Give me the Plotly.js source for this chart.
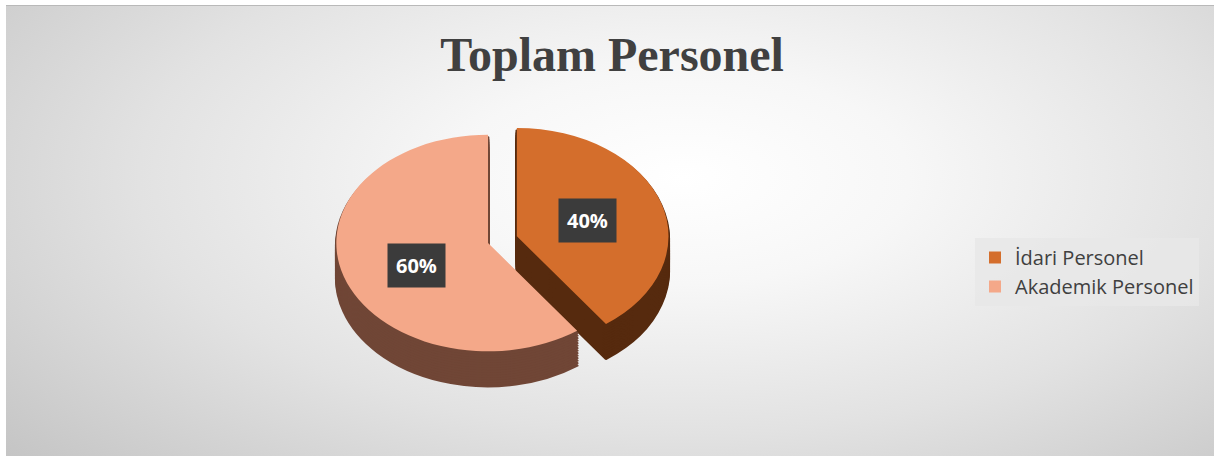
<!DOCTYPE html>
<html>
<head>
<meta charset="utf-8">
<script src="https://cdn.plot.ly/plotly-3.0.1.min.js"></script>
<style>
  html, body { margin:0; padding:0; background:#ffffff; width:1217px; height:457px; overflow:hidden; }
  #bg { position:absolute; left:6px; top:5px; width:1208px; height:450px;
        border-top:1px solid #b9b9b9;
        background: radial-gradient(ellipse 75% 95% at 56% 38%, #ffffff 0%, #f7f7f7 25%, #e2e2e2 60%, #c4c4c4 100%); }
  #chart { position:absolute; left:0; top:0; width:1217px; height:457px; }
</style>
</head>
<body>
<div id="bg"></div>
<div id="chart"></div>
<script>
const categories = ["İdari Personel", "Akademik Personel"];
const values = [40, 60];
const chartTitle = "Toplam Personel";

const topColors = ["#D46E2C", "#F4A889"];
const sideColors = ["#562A0E", "#704636"];
const total = values.reduce((a, b) => a + b, 0);
const pctLabels = values.map(v => Math.round(v / total * 100) + "%");

const W = 1217, H = 457;
const px = (x) => x / W;
const py = (y) => 1 - y / H;

// pie geometry (pixels): centre, half-size of domain, depth of the side wall
const CX = 488, CY = 243, HALF = 130, DEPTH = 35, STRETCH = 1.4, WALL_STEPS = 14;
const pulls = [0.2, 0];

function pieTrace(colors, dy, legend) {
  return {
    type: "pie",
    labels: categories,
    values: values,
    sort: false,
    direction: "clockwise",
    rotation: 0,
    pull: pulls,
    marker: { colors: colors, line: { width: legend ? 0 : 2, color: colors } },
    textinfo: "none",
    hoverinfo: legend ? "label+percent" : "skip",
    showlegend: legend,
    domain: { x: [px(CX - 190), px(CX + 190)], y: [py(CY + dy + HALF), py(CY + dy - HALF)] }
  };
}

// side wall: the same slices stacked downwards, then the top face
const traces = [];
for (let k = WALL_STEPS; k >= 1; k--) traces.push(pieTrace(sideColors, DEPTH * k / WALL_STEPS, false));
traces.push(pieTrace(topColors, 0, true));

const labelPos = [[px(587), py(220)], [px(416), py(265)]];
const annotations = pctLabels.map((t, i) => ({
  xref: "paper", yref: "paper",
  x: labelPos[i][0], y: labelPos[i][1],
  text: "<b>" + t + "</b>",
  showarrow: false,
  bgcolor: "#3b3b3b",
  borderpad: 8,
  font: { family: "Open Sans, sans-serif", size: 20, color: "#ffffff" }
}));

const layout = {
  width: W, height: H,
  margin: { l: 0, r: 0, t: 0, b: 0 },
  paper_bgcolor: "rgba(0,0,0,0)",
  plot_bgcolor: "rgba(0,0,0,0)",
  title: {
    text: "<b>" + chartTitle + "</b>",
    x: 0.503, xanchor: "center",
    y: py(54), yanchor: "middle",
    font: { family: "Liberation Serif, Times New Roman, serif", size: 48, color: "#404040" }
  },
  legend: {
    x: px(975), xanchor: "left",
    y: py(272), yanchor: "middle",
    bgcolor: "rgba(232,232,232,0.85)",
    font: { family: "Open Sans, sans-serif", size: 20, color: "#404040" },
    itemwidth: 30
  },
  annotations: annotations
};

Plotly.newPlot("chart", traces, layout, { displayModeBar: false, staticPlot: true }).then(gd => {
  // give the circular pie the flattened, elliptical look of the reference
  const layer = gd.querySelector("g.pielayer");
  if (layer) layer.setAttribute("transform",
    "translate(" + CX + ",0) scale(" + STRETCH + ",1) translate(" + (-CX) + ",0)");
});
</script>
</body>
</html>
